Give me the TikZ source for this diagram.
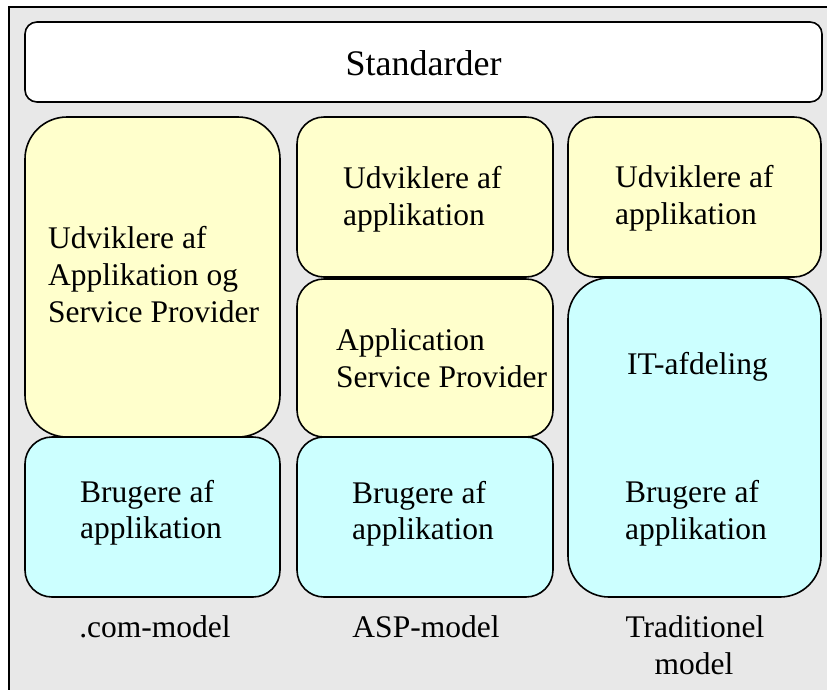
\documentclass[tikz,border=0pt]{standalone}
\usepackage{fontspec}
\setmainfont{Liberation Serif}
\definecolor{framegray}{HTML}{E8E8E8}
\definecolor{boxyellow}{HTML}{FFFFCC}
\definecolor{boxcyan}{HTML}{CCFFFF}
\tikzset{
  boxline/.style={draw=black, line width=1.6pt},
  ybox/.style={boxline, fill=boxyellow},
  cbox/.style={boxline, fill=boxcyan},
  txt/.style={anchor=base west, inner sep=0pt, font=\fontsize{31.5}{36}\selectfont},
  lbl/.style={anchor=base, inner sep=0pt, font=\fontsize{31.5}{36}\selectfont},
}
\begin{document}
\begin{tikzpicture}[x=1pt,y=-1pt]
\useasboundingbox (0,0) rectangle (827,689);
\clip (0,0) rectangle (827,689);
% outer frame (cropped at right and bottom)
\fill[framegray] (9,7) rectangle (840,700);
\draw[line width=1.6pt] (9,700) -- (9,7) -- (840,7);
% Standarder
\draw[boxline, fill=white, rounded corners=12pt] (25,22) rectangle (822,102);
\node[anchor=base, inner sep=0pt, font=\fontsize{36}{40}\selectfont] (std) at (423.5,75) {Standarder};
% column 1
\draw[ybox, rounded corners=42pt] (25,117) rectangle (280,437);
\draw[cbox, rounded corners=27pt] (25,437) rectangle (280,597);
% column 2
\draw[ybox, rounded corners=27pt] (297,117) rectangle (553,277);
\draw[ybox, rounded corners=27pt] (297,279) rectangle (553,437);
\draw[cbox, rounded corners=27pt] (297,437) rectangle (553,597);
% column 3
\draw[ybox, rounded corners=27pt] (568,117) rectangle (821,277);
\draw[cbox, rounded corners=41pt] (568,278) rectangle (821,597);
% texts column 1
\node[txt] (a1) at (48,248) {Udviklere af};
\node[txt] (a2) at (48,285) {Applikation og};
\node[txt] (a3) at (48,322) {Service Provider};
\node[txt] (b1) at (80,502) {Brugere af};
\node[txt] (b2) at (80,538) {applikation};
% texts column 2
\node[txt] (c1) at (343,188) {Udviklere af};
\node[txt] (c2) at (343,225) {applikation};
\node[txt] (d1) at (336,350) {Application};
\node[txt] (d2) at (336,387) {Service Provider};
\node[txt] (e1) at (352,503) {Brugere af};
\node[txt] (e2) at (352,539) {applikation};
% texts column 3
\node[txt] (f1) at (615,187) {Udviklere af};
\node[txt] (f2) at (615,224) {applikation};
\node[txt] (g1) at (627,374) {IT-afdeling};
\node[txt] (h1) at (625,502) {Brugere af};
\node[txt] (h2) at (625,539) {applikation};
% model labels
\node[lbl] (m1) at (155,637) {.com-model};
\node[lbl] (m2) at (426,637) {ASP-model};
\node[lbl] (m3) at (695,637) {Traditionel};
\node[lbl] (m4) at (694,674) {model};
\end{tikzpicture}
\end{document}
